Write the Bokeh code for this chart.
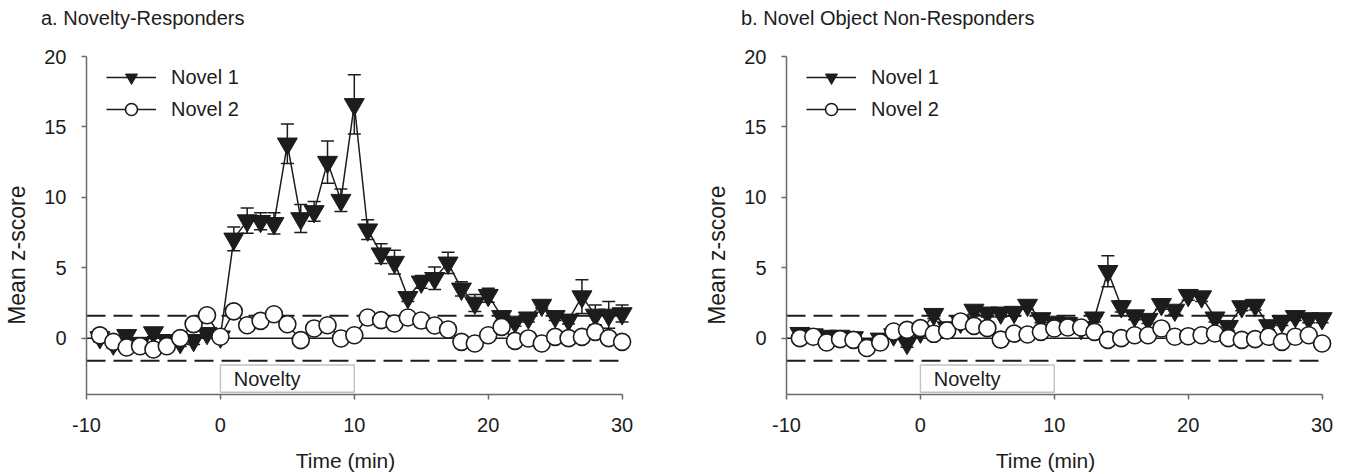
from bokeh.plotting import figure
from bokeh.layouts import row, column
from bokeh.models import (Range1d, Whisker, TeeHead, ColumnDataSource, Legend,
                          LegendItem, Label, BoxAnnotation, FixedTicker,
                          PrintfTickFormatter)
from bokeh.embed import file_html
from bokeh.resources import INLINE
import math

# ---------------- data ----------------
time = list(range(-9, 31))
x_ticks = [-10, 0, 10, 20, 30]
y_ticks = [0, 5, 10, 15, 20]
y_min, y_max = -4, 20
threshold = 1.6
novelty_start, novelty_end = 0, 10
novelty_box_top, novelty_box_bottom = -1.9, -3.84

# panel a: Novelty-Responders
a_novel1 = [0.05, -0.4, 0.2, -0.35, 0.4, -0.15, -0.3, -0.15, 0.35, 0.1,
            7.05, 8.35, 8.3, 8.15, 13.8, 8.5, 9.0, 12.5, 9.8, 16.6,
            7.7, 6.0, 5.4, 2.9, 4.0, 4.25, 5.35, 3.5, 2.5, 3.05,
            1.55, 1.15, 1.45, 2.35, 1.55, 1.3, 2.95, 1.65, 1.65, 1.75]
a_novel1_se = [0.3, 0.3, 0.3, 0.3, 0.3, 0.3, 0.3, 0.3, 0.3, 0.3,
               0.85, 0.9, 0.6, 0.75, 1.4, 1.0, 0.7, 1.5, 0.8, 2.1,
               0.7, 0.7, 0.85, 0.3, 0.45, 0.8, 0.75, 0.5, 0.6, 0.5,
               0.3, 0.3, 0.3, 0.2, 0.3, 0.3, 1.2, 0.7, 0.95, 0.6]
a_novel2 = [0.2, -0.26, -0.66, -0.57, -0.8, -0.57, 0.0, 1.0, 1.63, 0.1,
            1.9, 0.92, 1.23, 1.7, 0.99, -0.14, 0.69, 0.92, -0.02, 0.21,
            1.47, 1.28, 1.04, 1.47, 1.25, 0.9, 0.62, -0.26, -0.38, 0.21,
            0.8, -0.19, -0.02, -0.38, 0.09, 0.0, 0.09, 0.45, 0.0, -0.26]

# panel b: Novel Object Non-Responders
b_novel1 = [0.35, 0.25, 0.15, 0.15, 0.05, -0.45, -0.05, 0.25, -0.35, 0.45,
            1.7, 0.75, 1.15, 2.0, 1.8, 1.8, 1.85, 2.35, 1.4, 1.15,
            1.05, 0.7, 1.45, 4.75, 2.25, 1.6, 1.35, 2.4, 2.0, 3.05,
            2.95, 1.45, 0.85, 2.25, 2.35, 0.9, 1.2, 1.55, 1.4, 1.4]
b_novel1_se = [0.3, 0.3, 0.3, 0.3, 0.3, 0.3, 0.3, 0.3, 0.3, 0.3,
               0.3, 0.3, 0.3, 0.3, 0.3, 0.3, 0.3, 0.3, 0.3, 0.3,
               0.3, 0.3, 0.3, 1.1, 0.4, 0.3, 0.3, 0.35, 0.3, 0.36,
               0.35, 0.3, 0.3, 0.3, 0.35, 0.3, 0.3, 0.3, 0.3, 0.3]
b_novel2 = [0.0, 0.1, -0.31, -0.07, -0.12, -0.7, -0.31, 0.47, 0.59, 0.71,
            0.31, 0.54, 1.18, 0.87, 0.71, -0.1, 0.32, 0.26, 0.45, 0.69,
            0.76, 0.76, 0.45, -0.12, 0.0, 0.21, 0.21, 0.69, 0.1, 0.14,
            0.21, 0.33, 0.0, -0.12, -0.07, 0.1, -0.26, 0.1, 0.21, -0.38]

FONT = "Liberation Sans"
INK = "#1c1c1c"
AXIS = "#6a6a6a"

# ---------------- layout (pixels) ----------------
TITLE_H = 30
XLAB_H = 32
YLAB_W = 41
MAIN_LEFT = 43
FRAME_W, FRAME_H = 549, 338
MAIN_TOP, MAIN_BOTTOM = 26, 46
MAIN_H = MAIN_TOP + FRAME_H + MAIN_BOTTOM


def text_strip(width, height):
    f = figure(output_backend="svg", toolbar_location=None,
               width=width, height=height, min_border=0,
               x_range=Range1d(0, width), y_range=Range1d(0, height),
               x_axis_location=None, y_axis_location=None)
    f.outline_line_color = None
    f.grid.visible = False
    return f


def make_panel(title, n1, n1_se, n2, border_right):
    p = figure(output_backend="svg", toolbar_location=None,
               x_range=Range1d(-10, 31), y_range=Range1d(y_min, y_max),
               frame_width=FRAME_W, frame_height=FRAME_H,
               min_border_left=MAIN_LEFT, min_border_right=border_right,
               min_border_top=MAIN_TOP, min_border_bottom=MAIN_BOTTOM)
    p.outline_line_color = None
    p.grid.visible = False
    p.background_fill_color = "white"

    for ax in (p.xaxis[0], p.yaxis[0]):
        ax.axis_line_color = AXIS
        ax.axis_line_width = 1.5
        ax.major_tick_line_color = AXIS
        ax.major_tick_line_width = 1.5
        ax.major_tick_out = 5
        ax.major_tick_in = 0
        ax.minor_tick_line_color = None
        ax.major_label_text_font = FONT
        ax.major_label_text_font_size = "20px"
        ax.major_label_text_color = INK
    p.xaxis.ticker = FixedTicker(ticks=x_ticks)
    p.yaxis.ticker = FixedTicker(ticks=y_ticks)
    p.xaxis.formatter = PrintfTickFormatter(format="%d")
    p.yaxis.formatter = PrintfTickFormatter(format="%d")
    p.xaxis.bounds = (x_ticks[0], x_ticks[-1])
    p.xaxis.major_label_standoff = 18
    p.yaxis.major_label_standoff = 15

    # reference lines
    xs = [x_ticks[0], x_ticks[-1]]
    p.line(xs, [0, 0], line_color=INK, line_width=1.5)
    p.line(xs, [threshold, threshold], line_color=INK, line_width=2, line_dash="19 8")
    p.line(xs, [-threshold, -threshold], line_color=INK, line_width=2, line_dash="19 8")

    # novelty box
    p.add_layout(BoxAnnotation(left=novelty_start, right=novelty_end,
                               bottom=novelty_box_bottom, top=novelty_box_top,
                               fill_color="white", fill_alpha=1,
                               line_color="#333333", line_width=1.4, level="glyph"))
    p.add_layout(Label(x=novelty_start + 1, y=(novelty_box_top + novelty_box_bottom) / 2,
                       text="Novelty", text_baseline="middle", text_font=FONT,
                       text_font_size="20px", text_color=INK))

    src = ColumnDataSource(dict(t=time, n1=n1, n2=n2,
                                up=[v + e for v, e in zip(n1, n1_se)],
                                lo=[v - e for v, e in zip(n1, n1_se)]))
    p.add_layout(Whisker(source=src, base="t", upper="up", lower="lo",
                         line_color=INK, line_width=1.5,
                         upper_head=TeeHead(size=13, line_color=INK, line_width=1.5),
                         lower_head=TeeHead(size=13, line_color=INK, line_width=1.5),
                         level="underlay"))

    l1 = p.line("t", "n1", source=src, line_color=INK, line_width=1.5)
    s1 = p.scatter("t", "n1", source=src, marker="inverted_triangle", size=20,
                   fill_color=INK, line_color=INK, line_width=1)
    l2 = p.line("t", "n2", source=src, line_color=INK, line_width=1.5)
    s2 = p.scatter("t", "n2", source=src, marker="circle", size=17,
                   fill_color="white", line_color=INK, line_width=1.6)

    legend = Legend(items=[LegendItem(label="Novel 1", renderers=[l1, s1]),
                           LegendItem(label="Novel 2", renderers=[l2, s2])],
                    location=(20, 270), glyph_width=50, glyph_height=30,
                    spacing=2, padding=0, margin=0, label_standoff=15,
                    border_line_alpha=0, background_fill_alpha=0,
                    label_text_font=FONT, label_text_font_size="20px",
                    label_text_color=INK)
    p.add_layout(legend)

    main_w = MAIN_LEFT + FRAME_W + border_right
    panel_w = YLAB_W + main_w

    # panel title strip
    t = text_strip(panel_w, TITLE_H)
    t.add_layout(Label(x=YLAB_W + MAIN_LEFT - 43.5, y=13, text=title,
                       text_baseline="middle", text_align="left",
                       text_font=FONT, text_font_size="20px", text_color=INK))

    # y-axis title strip
    yl = text_strip(YLAB_W, MAIN_H)
    yl.add_layout(Label(x=16, y=169, text="Mean z-score", angle=math.pi / 2,
                        text_baseline="middle", text_align="center",
                        text_font=FONT, text_font_size="23px", text_color=INK))

    # x-axis title strip
    xl = text_strip(panel_w, XLAB_H)
    xl.add_layout(Label(x=YLAB_W + MAIN_LEFT + 261, y=12, text="Time (min)",
                        text_baseline="middle", text_align="center",
                        text_font=FONT, text_font_size="21px", text_color=INK))

    return column(t, row(yl, p, spacing=0), xl, spacing=0)


pa = make_panel("a. Novelty-Responders", a_novel1, a_novel1_se, a_novel2, 65)
pb = make_panel("b. Novel Object Non-Responders", b_novel1, b_novel1_se, b_novel2, 10)

layout = row(pa, pb, spacing=0)
open("out.html", "w").write(file_html(layout, INLINE))
